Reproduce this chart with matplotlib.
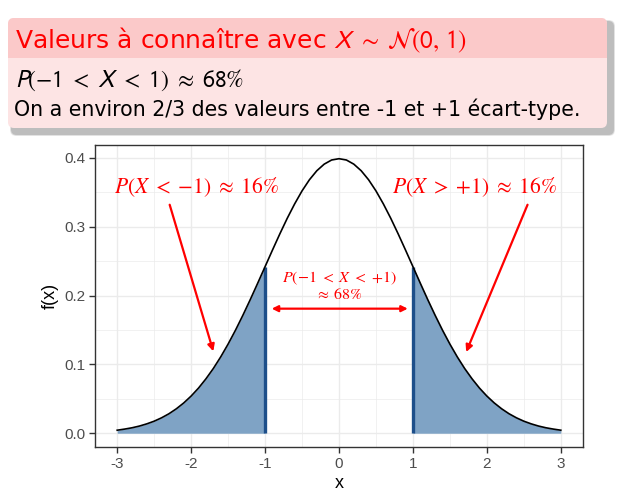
import numpy as np
import matplotlib.pyplot as plt
from matplotlib.patches import FancyBboxPatch, Rectangle

# densite N(0,1), x de -3 a 3 par pas de 0.1
x_vals = np.round(np.arange(-30, 31) / 10, 1)
density = [0.0044, 0.0060, 0.0079, 0.0104, 0.0136, 0.0175, 0.0224, 0.0283, 0.0355, 0.0440,
           0.0540, 0.0656, 0.0790, 0.0940, 0.1109, 0.1295, 0.1497, 0.1714, 0.1942, 0.2179,
           0.2420, 0.2661, 0.2897, 0.3123, 0.3332, 0.3521, 0.3683, 0.3814, 0.3910, 0.3970,
           0.3989,
           0.3970, 0.3910, 0.3814, 0.3683, 0.3521, 0.3332, 0.3123, 0.2897, 0.2661, 0.2420,
           0.2179, 0.1942, 0.1714, 0.1497, 0.1295, 0.1109, 0.0940, 0.0790, 0.0656, 0.0540,
           0.0440, 0.0355, 0.0283, 0.0224, 0.0175, 0.0136, 0.0104, 0.0079, 0.0060, 0.0044]
cut_points = [-1, 1]
x_ticks = [-3, -2, -1, 0, 1, 2, 3]
y_ticks = [0.0, 0.1, 0.2, 0.3, 0.4]

block_title = r'Valeurs à connaître avec $X\ \sim\;\mathcal{N}(0,\,1)$'
block_line1 = r'$P({-1}\ <\;X\ <\;1)\ \approx\;68\%$'
block_line2 = 'On a environ 2/3 des valeurs entre -1 et +1 écart-type.'
label_left = r'$P(X\ <\;{-1})\ \approx\;16\%$'
label_right = r'$P(X\ >\;{+1})\ \approx\;16\%$'
label_mid = r'$P({-1}\ <\;X\ <\;{+1})$' + '\n' + r'$\approx\;68\%$'

plt.rcParams['font.family'] = ['Liberation Sans', 'DejaVu Sans']

W, H = 627, 493
fig = plt.figure(figsize=(W / 100, H / 100), dpi=100)

# --- bloc beamer (coordonnees en pixels) ---
bg = fig.add_axes([0, 0, 1, 1])
bg.set_xlim(0, W)
bg.set_ylim(H, 0)
bg.axis('off')

# ombre
for k, a in enumerate([0.10, 0.14, 0.2]):
    d = 6 - k
    bg.add_patch(FancyBboxPatch((8 + 5 - d / 2, 18 + 5 - d / 2), 599 + d, 110 + d,
                                boxstyle='round,pad=0,rounding_size=6',
                                fc='#555555', ec='none', alpha=a))
bg.add_patch(FancyBboxPatch((8, 18), 599, 110, boxstyle='round,pad=0,rounding_size=6',
                            fc='#fde4e4', ec='none'))
bg.add_patch(FancyBboxPatch((8, 18), 599, 40, boxstyle='round,pad=0,rounding_size=6',
                            fc='#fbc9c9', ec='none'))
bg.add_patch(Rectangle((8, 40), 599, 18, fc='#fbc9c9', ec='none'))

block_font = ['DejaVu Sans']
bg.text(15, 48, block_title, color='red', fontsize=18, va='baseline',
        family=block_font, math_fontfamily='stixsans')
bg.text(15, 87, block_line1, color='black', fontsize=17, va='baseline',
        family=block_font, math_fontfamily='stixsans')
bg.text(14, 116, block_line2, color='black', fontsize=14.8, va='baseline',
        family=block_font)

# --- graphique ---
ax = fig.add_axes([95 / W, 1 - 447 / H, (583 - 95) / W, (447 - 145) / H])
ax.set_xlim(-3.3, 3.3)
ax.set_ylim(-0.02, 0.4188)

xs = np.array(x_vals)
ys = np.array(density)
ax.fill_between(xs, ys, where=xs <= cut_points[0] + 1e-9, color='#7fa3c5', lw=0, zorder=2)
ax.fill_between(xs, ys, where=xs >= cut_points[1] - 1e-9, color='#7fa3c5', lw=0, zorder=2)
ax.plot(xs, ys, color='black', lw=1.2, zorder=4)
for c in cut_points:
    ax.vlines(c, 0, ys[np.isclose(xs, c)][0], color='#1d4f8a', lw=2.4, zorder=3)

ax.set_xticks(x_ticks)
ax.set_xticklabels([str(v) for v in x_ticks])
ax.set_yticks(y_ticks)
ax.set_yticklabels(['%.1f' % v for v in y_ticks])
ax.set_xticks(np.arange(-2.5, 3, 1.0), minor=True)
ax.set_yticks(np.arange(0.05, 0.4, 0.1), minor=True)
ax.grid(which='major', color='#ebebeb', lw=1.0, zorder=0)
ax.grid(which='minor', color='#ebebeb', lw=0.5, zorder=0)
ax.set_axisbelow(True)
ax.tick_params(which='major', length=4, width=1, color='#333333', labelcolor='#4d4d4d',
               labelsize=11, pad=3)
ax.tick_params(which='minor', length=0)
for s in ax.spines.values():
    s.set_color('#333333')
    s.set_linewidth(1.0)
ax.set_xlabel('x', fontsize=13, labelpad=3)
ax.set_ylabel('f(x)', fontsize=13, labelpad=4)

# annotations
ax.text(-1.93, 0.357, label_left, color='red', fontsize=15.5, ha='center', va='center',
        math_fontfamily='stix', zorder=5)
ax.text(1.84, 0.357, label_right, color='red', fontsize=15.5, ha='center', va='center',
        math_fontfamily='stix', zorder=5)
ax.text(0, 0.214, label_mid, color='red', fontsize=11.5, ha='center', va='center',
        linespacing=1.0, math_fontfamily='stix', multialignment='center', zorder=5)
arrow = dict(arrowstyle='-|>', color='red', lw=1.6, mutation_scale=10, shrinkA=0, shrinkB=0)
ax.annotate('', xy=(-1.70, 0.119), xytext=(-2.29, 0.332), arrowprops=arrow, zorder=5)
ax.annotate('', xy=(1.72, 0.118), xytext=(2.55, 0.332), arrowprops=arrow, zorder=5)
ax.annotate('', xy=(-0.91, 0.181), xytext=(0.93, 0.181),
            arrowprops=dict(arrowstyle='<|-|>', color='red', lw=1.6, mutation_scale=9,
                            shrinkA=0, shrinkB=0), zorder=5)

fig.savefig('out.png', dpi=100)
